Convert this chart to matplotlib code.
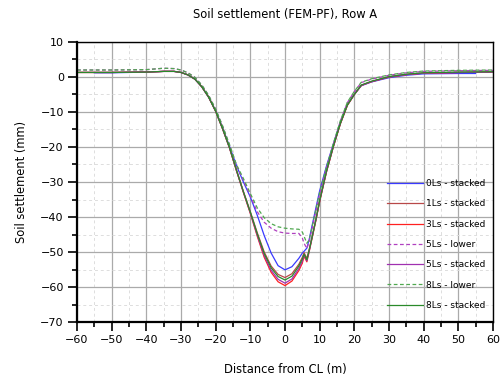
import matplotlib
matplotlib.use('Agg')
import matplotlib.pyplot as plt
from matplotlib.ticker import MultipleLocator

# 距离 (m)
x = [-60, -50, -40, -35, -32, -30, -28, -26, -24, -22, -20, -18, -16, -14, -12, -10,
     -8, -6, -4, -2, 0, 2, 4, 5, 5.5, 6.3, 7, 8, 9, 10, 12, 14, 16, 18, 20, 22, 25,
     30, 35, 40, 50, 60]
x_0ls = [-55, -50, -40, -35, -32, -30, -28, -26, -24, -22, -20, -18, -16, -14, -12, -10,
         -8, -6, -4, -2, 0, 2, 4, 5, 5.5, 6.3, 7, 8, 9, 10, 12, 14, 16, 18, 20, 22, 25,
         30, 35, 40, 50, 55]

# 沉降 (mm)
s_0ls = [1.2, 1.2, 1.4, 1.6, 1.6, 1.3, 0.6, -0.6, -2.8, -5.8, -9.6, -14.5, -19.8, -25.3, -30.0, -34.3,
         -39.5, -45.3, -50.3, -53.9, -55.1, -54.2, -51.8, -50.3, -49.8, -48.9, -46.3, -41.6, -37.0, -32.5,
         -25.3, -19.0, -12.8, -7.8, -4.9, -2.5, -1.4, -0.2, 0.5, 0.9, 1.0, 1.0]
s_1ls = [1.3, 1.3, 1.4, 1.6, 1.6, 1.3, 0.6, -0.6, -2.8, -5.8, -9.8, -14.8, -20.2, -26.6, -32.7, -38.5,
         -44.5, -50.0, -54.0, -56.4, -57.3, -56.2, -53.5, -51.5, -50.2, -51.8, -49.2, -44.8, -40.3, -35.3,
         -26.8, -19.6, -13.2, -8.0, -5.0, -2.4, -1.3, 0.0, 0.7, 1.1, 1.3, 1.4]
s_3ls = [1.3, 1.3, 1.4, 1.6, 1.6, 1.3, 0.6, -0.6, -2.8, -5.8, -9.8, -14.8, -20.3, -26.8, -33.0, -39.0,
         -45.5, -51.5, -55.8, -58.5, -59.6, -58.3, -55.3, -53.2, -51.2, -52.8, -49.8, -45.2, -40.6, -35.6,
         -27.0, -19.8, -13.3, -8.1, -5.0, -2.4, -1.3, 0.0, 0.7, 1.1, 1.3, 1.4]
s_5ls_lower = [2.0, 2.0, 2.1, 2.5, 2.4, 2.0, 1.2, -0.1, -2.3, -5.3, -9.2, -14.0, -19.5, -25.3, -29.5, -34.0,
               -38.5, -41.5, -43.2, -44.2, -44.6, -44.7, -44.7, -46.0, -47.5, -49.0, -47.0, -42.5, -38.0, -33.5,
               -25.8, -19.0, -12.5, -7.3, -4.2, -1.6, -0.6, 0.5, 1.2, 1.6, 1.8, 1.9]
s_5ls = [1.3, 1.3, 1.4, 1.6, 1.6, 1.3, 0.6, -0.6, -2.8, -5.8, -9.8, -14.8, -20.3, -26.7, -32.9, -38.8,
         -45.2, -51.0, -55.2, -57.8, -58.9, -57.7, -54.7, -52.6, -50.8, -52.5, -49.6, -45.0, -40.4, -35.4,
         -26.9, -19.7, -13.2, -8.0, -5.0, -2.4, -1.3, 0.0, 0.7, 1.1, 1.3, 1.4]
s_8ls_lower = [2.0, 2.0, 2.1, 2.5, 2.4, 2.0, 1.2, -0.1, -2.3, -5.3, -9.2, -14.0, -19.3, -25.0, -29.0, -33.3,
               -37.4, -40.2, -41.9, -42.8, -43.2, -43.4, -43.5, -44.3, -45.5, -47.5, -46.5, -42.0, -37.5, -33.0,
               -25.6, -18.8, -12.4, -7.2, -4.1, -1.5, -0.5, 0.6, 1.3, 1.7, 1.9, 2.0]
s_8ls = [1.3, 1.3, 1.4, 1.6, 1.6, 1.3, 0.6, -0.6, -2.8, -5.8, -9.8, -14.8, -20.2, -26.6, -32.8, -38.6,
         -44.8, -50.4, -54.5, -57.0, -58.0, -56.9, -54.0, -52.0, -50.6, -52.2, -49.4, -44.9, -40.3, -35.3,
         -26.8, -19.6, -13.2, -8.0, -5.0, -2.3, -1.2, 0.1, 0.8, 1.2, 1.4, 1.5]

plt.rcParams['font.family'] = ['DejaVu Sans']
plt.rcParams['font.size'] = 7

fig = plt.figure(figsize=(5.03, 3.80), dpi=100)
ax = fig.add_axes([0.1531, 0.1526, 0.8270, 0.7369])

ax.plot(x_0ls, s_0ls, color='#3a3aff', lw=0.9, label='0Ls - stacked')
ax.plot(x, s_1ls, color='#b84848', lw=0.9, label='1Ls - stacked')
ax.plot(x, s_3ls, color='#ff2020', lw=0.9, label='3Ls - stacked')
ax.plot(x, s_5ls_lower, color='#b040c0', lw=0.9, ls=(0, (3, 2)), label='5Ls - lower')
ax.plot(x, s_5ls, color='#a030b0', lw=0.9, label='5Ls - stacked')
ax.plot(x, s_8ls_lower, color='#50a850', lw=0.9, ls=(0, (3, 2)), label='8Ls - lower')
ax.plot(x, s_8ls, color='#2a8a2a', lw=0.9, label='8Ls - stacked')

ax.set_xlim(-60, 60)
ax.set_ylim(-70, 10)
ax.xaxis.set_major_locator(MultipleLocator(10))
ax.xaxis.set_minor_locator(MultipleLocator(5))
ax.yaxis.set_major_locator(MultipleLocator(10))
ax.yaxis.set_minor_locator(MultipleLocator(5))

ax.grid(which='major', color='#aaaaaa', lw=0.9, ls='-')
ax.grid(which='minor', color='#dddddd', lw=0.7, ls=(0, (3, 3)))
ax.set_axisbelow(True)

ax.tick_params(which='major', direction='out', length=6.5, width=1.2, pad=3, labelsize=8)
ax.tick_params(which='minor', direction='out', length=3.6, width=1.2)
ax.tick_params(top=False, right=False, which='both')
for side in ['left', 'bottom']:
    ax.spines[side].set_linewidth(1.6)
for side in ['top', 'right']:
    ax.spines[side].set_linewidth(1.0)

ax.set_title('Soil settlement (FEM-PF), Row A', fontsize=8.3, pad=17)
ax.set_xlabel('Distance from CL (m)', fontsize=8.3, labelpad=13)
ax.set_ylabel('Soil settlement (mm)', fontsize=8.3, labelpad=9)

ax.legend(loc='upper left', bbox_to_anchor=(0.745, 0.51), frameon=False, fontsize=6.5,
          handlelength=4.0, handletextpad=0.35, labelspacing=1.25, borderpad=0, borderaxespad=0)

plt.savefig('out.png', dpi=100)
plt.close()
